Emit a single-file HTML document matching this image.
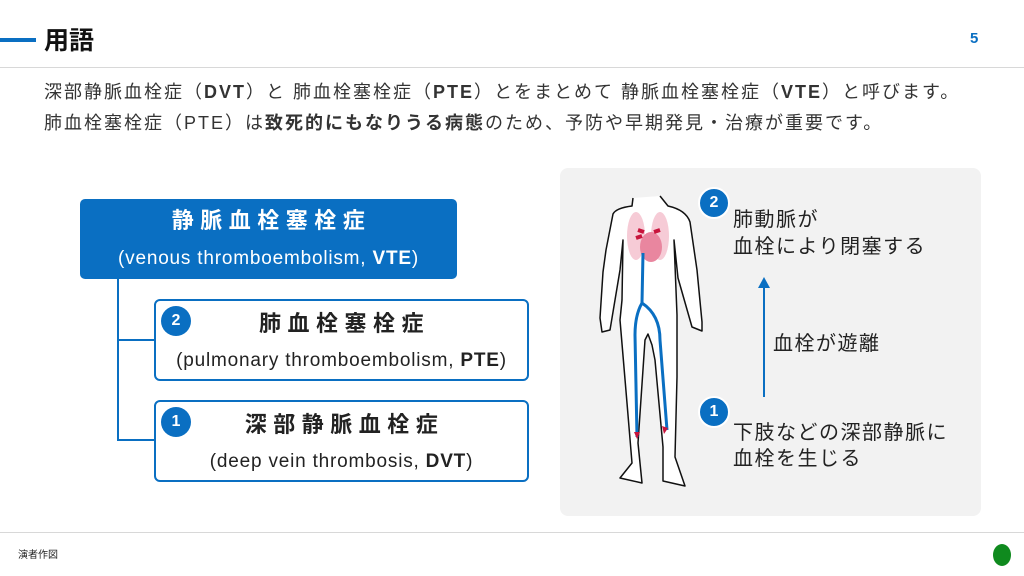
<!DOCTYPE html>
<html><head><meta charset="utf-8"><style>
*{margin:0;padding:0;box-sizing:border-box}
body{width:1024px;height:576px;position:relative;background:#fff;font-family:"Liberation Sans","Noto Sans CJK JP",sans-serif;color:#222;overflow:hidden}
.a{position:absolute;white-space:nowrap}
.box{position:absolute;border:2px solid #0a6fc2;border-radius:6px;background:#fff}
.num{position:absolute;width:30px;height:30px;border-radius:50%;background:#0a6fc2;color:#fff;font-weight:bold;font-size:16px;text-align:center;line-height:30px}
.t{font-weight:bold;font-size:22px;letter-spacing:6.5px;text-align:center;padding-left:6px}
.s{font-size:19px;letter-spacing:0.8px;text-align:center}
</style></head><body>
<div class="a" style="left:0;top:38px;width:36px;height:4px;background:#0a6fc2"></div>
<div class="a" style="left:44px;top:21px;font-size:25px;font-weight:bold;color:#111">用語</div>
<div class="a" style="left:970px;top:30px;font-size:15px;font-weight:bold;color:#0a6fc2">5</div>
<div class="a" style="left:0;top:67px;width:1024px;height:1px;background:#d8d8d8"></div>
<div class="a" style="left:44px;top:77px;font-size:18px;line-height:31px;color:#333;letter-spacing:2px">深部静脈血栓症（<b>DVT</b>）と 肺血栓塞栓症（<b>PTE</b>）とをまとめて 静脈血栓塞栓症（<b>VTE</b>）と呼びます。<br>肺血栓塞栓症（PTE）は<b>致死的にもなりうる病態</b>のため、予防や早期発見・治療が重要です。</div>

<div class="a" style="left:117px;top:278px;width:2px;height:163px;background:#0a6fc2"></div>
<div class="a" style="left:117px;top:339px;width:38px;height:2px;background:#0a6fc2"></div>
<div class="a" style="left:117px;top:439px;width:38px;height:2px;background:#0a6fc2"></div>

<div class="a" style="left:80px;top:199px;width:377px;height:80px;background:#0a6fc2;border-radius:5px;color:#fff">
<div class="t" style="margin-top:4px">静脈血栓塞栓症</div>
<div class="s" style="margin-top:13px">(venous thromboembolism, <b>VTE</b>)</div></div>

<div class="box" style="left:154px;top:299px;width:375px;height:82px">
<div class="num" style="left:5px;top:5px">2</div>
<div class="t" style="margin-top:5px">肺血栓塞栓症</div>
<div class="s" style="margin-top:12px">(pulmonary thromboembolism, <b>PTE</b>)</div></div>

<div class="box" style="left:154px;top:400px;width:375px;height:82px">
<div class="num" style="left:5px;top:5px">1</div>
<div class="t" style="margin-top:5px">深部静脈血栓症</div>
<div class="s" style="margin-top:12px">(deep vein thrombosis, <b>DVT</b>)</div></div>

<div class="a" style="left:560px;top:168px;width:421px;height:348px;background:#f2f2f2;border-radius:8px"></div>
<svg class="a" style="left:0;top:0" width="1024" height="576">
<path d="M633 198 L632 206 Q616 208 613 214 L606 250 L603 272 L600 318 L602 332 L610 330 L612 318 L620 270 L623 240 L622 300 L620 320 L627 403 L632 463 L620 478 L642 483 L638 443 L645 340 L648 334 L652 345 L655 360 L663 447 L663 481 L685 486 L675 457 L677 377 L677 315 L674 240 L678 278 L692 327 L702 331 L702 322 L697 270 L690 222 Q686 210 668 206 L660 196" fill="#fff" stroke="#111" stroke-width="1.5" stroke-linejoin="round"/>
<ellipse cx="636" cy="236" rx="9" ry="24" fill="#f6cbd6"/>
<ellipse cx="660" cy="236" rx="9" ry="24" fill="#f6cbd6"/>
<ellipse cx="651" cy="247" rx="11" ry="15" fill="#e9869f"/>
<path d="M638 230 l6 2 M660 230 l-6 2 M636 238 l6 -2" stroke="#c8143c" stroke-width="4"/>
<path d="M643 253 L642 303 Q635 315 635 335 L637 437 M642 303 Q660 315 660 340 L667 430" fill="none" stroke="#0a6fc2" stroke-width="3"/>
<path d="M634 432 l6 0 l-3 7z M662 426 l6 2 l-4 6z" fill="#c8143c"/>
<line x1="764" y1="397" x2="764" y2="285" stroke="#0a6fc2" stroke-width="2"/>
<path d="M758 288 L764 277 L770 288z" fill="#0a6fc2"/>
</svg>
<div class="num" style="left:698px;top:187px;border:2px solid #fff;width:32px;height:32px;line-height:28px">2</div>
<div class="num" style="left:698px;top:396px;border:2px solid #fff;width:32px;height:32px;line-height:28px">1</div>
<div class="a" style="left:733px;top:207px;font-size:20px;line-height:27px;letter-spacing:1.5px">肺動脈が<br>血栓により閉塞する</div>
<div class="a" style="left:773px;top:327px;font-size:20px;letter-spacing:1.5px">血栓が遊離</div>
<div class="a" style="left:733px;top:420px;font-size:20px;line-height:26px;letter-spacing:1.5px">下肢などの深部静脈に<br>血栓を生じる</div>

<div class="a" style="left:0;top:532px;width:1024px;height:1px;background:#d8d8d8"></div>
<div class="a" style="left:18px;top:546px;font-size:10px;color:#222">演者作図</div>
<div class="a" style="left:993px;top:544px;width:18px;height:22px;border-radius:50%;background:#0f8a1e"></div>
</body></html>
